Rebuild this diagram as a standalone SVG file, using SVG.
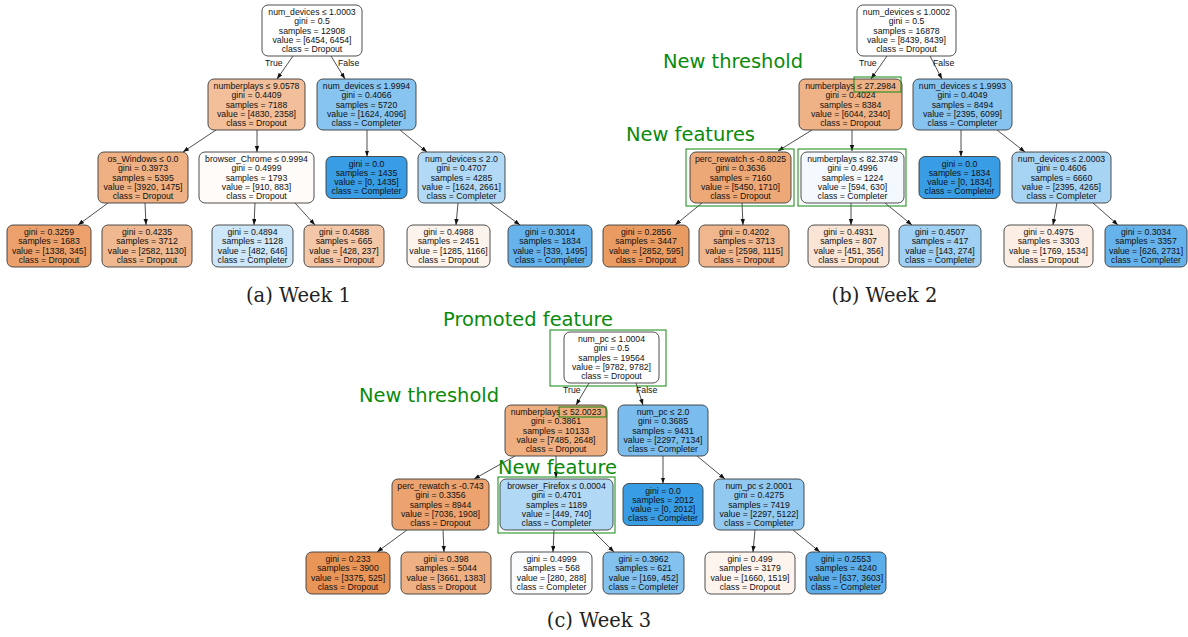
<svg xmlns="http://www.w3.org/2000/svg" width="1188" height="637" viewBox="0 0 1188 637">
<defs>
<marker id="ah" markerWidth="6" markerHeight="5" refX="6" refY="2.2" orient="auto" markerUnits="userSpaceOnUse"><path d="M0,0 L6,2.2 L0,4.4 z" fill="#111"/></marker>
<style>
.n rect{stroke:#3a3a3a;stroke-width:0.9}
.n text,.tf{font-family:"Liberation Sans",Arial,sans-serif;font-size:8.7px;fill:#111}
.n text{text-anchor:middle}
.n rect.hl{fill:none;stroke:#118811;stroke-width:1}
.lab{font-family:"DejaVu Sans",Verdana,sans-serif;font-size:19.5px;fill:#0a8a0a}
.cap{font-family:"DejaVu Serif","Liberation Serif",serif;font-size:19.5px;fill:#222;text-anchor:middle}
.e line{stroke:#222;stroke-width:0.8;marker-end:url(#ah)}
</style>
</defs>
<rect width="1188" height="637" fill="#fff"/>

<!-- connectors -->
<g id="connectors" class="e">
<line x1="293" y1="56" x2="277" y2="79"/>
<line x1="331" y1="56" x2="345" y2="79"/>
<line x1="216" y1="130" x2="183" y2="152"/>
<line x1="257" y1="130" x2="257" y2="152"/>
<line x1="367" y1="130" x2="367" y2="156.5"/>
<line x1="400" y1="130" x2="427" y2="152"/>
<line x1="108" y1="203" x2="78" y2="225"/>
<line x1="145" y1="203" x2="146" y2="225"/>
<line x1="255" y1="203" x2="254" y2="225"/>
<line x1="295" y1="203" x2="315" y2="225"/>
<line x1="458" y1="203" x2="456" y2="225"/>
<line x1="490" y1="203" x2="520" y2="225"/>

<line x1="887" y1="56" x2="871" y2="79"/>
<line x1="930" y1="56" x2="942" y2="79"/>
<line x1="812" y1="130" x2="778" y2="151"/>
<line x1="852" y1="130" x2="852" y2="151"/>
<line x1="961" y1="130" x2="961" y2="156.5"/>
<line x1="997" y1="130" x2="1025" y2="152"/>
<line x1="702" y1="203" x2="675" y2="225"/>
<line x1="742" y1="203" x2="743" y2="225"/>
<line x1="851" y1="203" x2="851" y2="225"/>
<line x1="885" y1="203" x2="912" y2="225"/>
<line x1="1057" y1="203" x2="1053" y2="225"/>
<line x1="1093" y1="203" x2="1118" y2="225"/>

<line x1="589" y1="383" x2="576" y2="405"/>
<line x1="636" y1="383" x2="643" y2="405"/>
<line x1="515" y1="456" x2="474" y2="479"/>
<line x1="556" y1="456" x2="556" y2="478"/>
<line x1="663" y1="456" x2="663" y2="483.5"/>
<line x1="697" y1="456" x2="725" y2="479"/>
<line x1="407" y1="530" x2="377" y2="552"/>
<line x1="443" y1="530" x2="444" y2="552"/>
<line x1="554" y1="530" x2="553" y2="552"/>
<line x1="592" y1="530" x2="614" y2="552"/>
<line x1="755" y1="530" x2="753" y2="552"/>
<line x1="793" y1="530" x2="820" y2="552"/>
</g>

<g id="edge-labels">
<text class="tf" x="265" y="66">True</text>
<text class="tf" x="338" y="66">False</text>
<text class="tf" x="859" y="66">True</text>
<text class="tf" x="933" y="66">False</text>
<text class="tf" x="563" y="393">True</text>
<text class="tf" x="636" y="393">False</text>
</g>

<!-- Week 1 -->
<g id="w1-root" class="n"><rect x="262" y="5" width="100" height="51" rx="6" fill="#ffffff"/>
<text y="15.2"><tspan x="312">num_devices ≤ 1.0003</tspan><tspan x="312" dy="9.25">gini = 0.5</tspan><tspan x="312" dy="9.25">samples = 12908</tspan><tspan x="312" dy="9.25">value = [6454, 6454]</tspan><tspan x="312" dy="9.25">class = Dropout</tspan></text></g>
<g id="w1-n1" class="n"><rect x="208" y="79" width="97" height="51" rx="6" fill="#f2bf9a"/>
<text y="89.2"><tspan x="256.5">numberplays ≤ 9.0578</tspan><tspan x="256.5" dy="9.25">gini = 0.4409</tspan><tspan x="256.5" dy="9.25">samples = 7188</tspan><tspan x="256.5" dy="9.25">value = [4830, 2358]</tspan><tspan x="256.5" dy="9.25">class = Dropout</tspan></text></g>
<g id="w1-n2" class="n"><rect x="317" y="79" width="99" height="51" rx="6" fill="#87c4ef"/>
<text y="89.2"><tspan x="366.5">num_devices ≤ 1.9994</tspan><tspan x="366.5" dy="9.25">gini = 0.4066</tspan><tspan x="366.5" dy="9.25">samples = 5720</tspan><tspan x="366.5" dy="9.25">value = [1624, 4096]</tspan><tspan x="366.5" dy="9.25">class = Completer</tspan></text></g>
<g id="w1-n3" class="n"><rect x="98" y="152" width="90" height="51" rx="6" fill="#efb083"/>
<text y="162.2"><tspan x="143">os_Windows ≤ 0.0</tspan><tspan x="143" dy="9.25">gini = 0.3973</tspan><tspan x="143" dy="9.25">samples = 5395</tspan><tspan x="143" dy="9.25">value = [3920, 1475]</tspan><tspan x="143" dy="9.25">class = Dropout</tspan></text></g>
<g id="w1-n4" class="n"><rect x="199" y="152" width="115" height="51" rx="6" fill="#fefbf9"/>
<text y="162.2"><tspan x="256.5">browser_Chrome ≤ 0.9994</tspan><tspan x="256.5" dy="9.25">gini = 0.4999</tspan><tspan x="256.5" dy="9.25">samples = 1793</tspan><tspan x="256.5" dy="9.25">value = [910, 883]</tspan><tspan x="256.5" dy="9.25">class = Dropout</tspan></text></g>
<g id="w1-n5" class="n"><rect x="326" y="156.5" width="81" height="42" rx="6" fill="#399de5"/>
<text y="166.7"><tspan x="366.5">gini = 0.0</tspan><tspan x="366.5" dy="9.25">samples = 1435</tspan><tspan x="366.5" dy="9.25">value = [0, 1435]</tspan><tspan x="366.5" dy="9.25">class = Completer</tspan></text></g>
<g id="w1-n6" class="n"><rect x="418" y="152" width="87" height="51" rx="6" fill="#b2d9f5"/>
<text y="162.2"><tspan x="461.5">num_devices ≤ 2.0</tspan><tspan x="461.5" dy="9.25">gini = 0.4707</tspan><tspan x="461.5" dy="9.25">samples = 4285</tspan><tspan x="461.5" dy="9.25">value = [1624, 2661]</tspan><tspan x="461.5" dy="9.25">class = Completer</tspan></text></g>
<g id="w1-l1" class="n"><rect x="7" y="225" width="84" height="42" rx="6" fill="#eca16c"/>
<text y="235.2"><tspan x="49">gini = 0.3259</tspan><tspan x="49" dy="9.25">samples = 1683</tspan><tspan x="49" dy="9.25">value = [1338, 345]</tspan><tspan x="49" dy="9.25">class = Dropout</tspan></text></g>
<g id="w1-l2" class="n"><rect x="102" y="225" width="90" height="42" rx="6" fill="#f0b890"/>
<text y="235.2"><tspan x="147">gini = 0.4235</tspan><tspan x="147" dy="9.25">samples = 3712</tspan><tspan x="147" dy="9.25">value = [2582, 1130]</tspan><tspan x="147" dy="9.25">class = Dropout</tspan></text></g>
<g id="w1-l3" class="n"><rect x="212" y="225" width="81" height="42" rx="6" fill="#cde6f8"/>
<text y="235.2"><tspan x="252.5">gini = 0.4894</tspan><tspan x="252.5" dy="9.25">samples = 1128</tspan><tspan x="252.5" dy="9.25">value = [482, 646]</tspan><tspan x="252.5" dy="9.25">class = Completer</tspan></text></g>
<g id="w1-l4" class="n"><rect x="304" y="225" width="80" height="42" rx="6" fill="#f3c7a7"/>
<text y="235.2"><tspan x="344">gini = 0.4588</tspan><tspan x="344" dy="9.25">samples = 665</tspan><tspan x="344" dy="9.25">value = [428, 237]</tspan><tspan x="344" dy="9.25">class = Dropout</tspan></text></g>
<g id="w1-l5" class="n"><rect x="407" y="225" width="83" height="42" rx="6" fill="#fdf3ed"/>
<text y="235.2"><tspan x="448.5">gini = 0.4988</tspan><tspan x="448.5" dy="9.25">samples = 2451</tspan><tspan x="448.5" dy="9.25">value = [1285, 1166]</tspan><tspan x="448.5" dy="9.25">class = Dropout</tspan></text></g>
<g id="w1-l6" class="n"><rect x="508" y="225" width="84" height="42" rx="6" fill="#66b3eb"/>
<text y="235.2"><tspan x="550">gini = 0.3014</tspan><tspan x="550" dy="9.25">samples = 1834</tspan><tspan x="550" dy="9.25">value = [339, 1495]</tspan><tspan x="550" dy="9.25">class = Completer</tspan></text></g>

<!-- Week 2 -->
<g id="w2-root" class="n"><rect x="857" y="5" width="99" height="51" rx="6" fill="#ffffff"/>
<text y="15.2"><tspan x="906.5">num_devices ≤ 1.0002</tspan><tspan x="906.5" dy="9.25">gini = 0.5</tspan><tspan x="906.5" dy="9.25">samples = 16878</tspan><tspan x="906.5" dy="9.25">value = [8439, 8439]</tspan><tspan x="906.5" dy="9.25">class = Dropout</tspan></text></g>
<g id="w2-n1" class="n"><rect x="799" y="79" width="103" height="51" rx="6" fill="#efb286"/>
<text y="89.2"><tspan x="850.5">numberplays ≤ 27.2984</tspan><tspan x="850.5" dy="9.25">gini = 0.4024</tspan><tspan x="850.5" dy="9.25">samples = 8384</tspan><tspan x="850.5" dy="9.25">value = [6044, 2340]</tspan><tspan x="850.5" dy="9.25">class = Dropout</tspan></text>
<rect class="hl" x="854" y="77" width="47" height="15"/></g>
<g id="w2-n2" class="n"><rect x="913" y="79" width="99" height="51" rx="6" fill="#87c3ef"/>
<text y="89.2"><tspan x="962.5">num_devices ≤ 1.9993</tspan><tspan x="962.5" dy="9.25">gini = 0.4049</tspan><tspan x="962.5" dy="9.25">samples = 8494</tspan><tspan x="962.5" dy="9.25">value = [2395, 6099]</tspan><tspan x="962.5" dy="9.25">class = Completer</tspan></text></g>
<g id="w2-n3" class="n"><rect x="690" y="152" width="101" height="51" rx="6" fill="#eda877"/>
<text y="162.2"><tspan x="740.5">perc_rewatch ≤ -0.8025</tspan><tspan x="740.5" dy="9.25">gini = 0.3636</tspan><tspan x="740.5" dy="9.25">samples = 7160</tspan><tspan x="740.5" dy="9.25">value = [5450, 1710]</tspan><tspan x="740.5" dy="9.25">class = Dropout</tspan></text>
<rect class="hl" x="686" y="149" width="108" height="57"/></g>
<g id="w2-n4" class="n"><rect x="801" y="152" width="103" height="51" rx="6" fill="#f4f9fe"/>
<text y="162.2"><tspan x="852.5">numberplays ≤ 82.3749</tspan><tspan x="852.5" dy="9.25">gini = 0.4996</tspan><tspan x="852.5" dy="9.25">samples = 1224</tspan><tspan x="852.5" dy="9.25">value = [594, 630]</tspan><tspan x="852.5" dy="9.25">class = Completer</tspan></text>
<rect class="hl" x="798" y="149" width="108" height="57"/></g>
<g id="w2-n5" class="n"><rect x="919" y="156.5" width="81" height="42" rx="6" fill="#399de5"/>
<text y="166.7"><tspan x="959.5">gini = 0.0</tspan><tspan x="959.5" dy="9.25">samples = 1834</tspan><tspan x="959.5" dy="9.25">value = [0, 1834]</tspan><tspan x="959.5" dy="9.25">class = Completer</tspan></text></g>
<g id="w2-n6" class="n"><rect x="1012" y="152" width="99" height="51" rx="6" fill="#a8d4f4"/>
<text y="162.2"><tspan x="1061.5">num_devices ≤ 2.0003</tspan><tspan x="1061.5" dy="9.25">gini = 0.4606</tspan><tspan x="1061.5" dy="9.25">samples = 6660</tspan><tspan x="1061.5" dy="9.25">value = [2395, 4265]</tspan><tspan x="1061.5" dy="9.25">class = Completer</tspan></text></g>
<g id="w2-l1" class="n"><rect x="603" y="225" width="86" height="42" rx="6" fill="#ea9b62"/>
<text y="235.2"><tspan x="646">gini = 0.2856</tspan><tspan x="646" dy="9.25">samples = 3447</tspan><tspan x="646" dy="9.25">value = [2852, 595]</tspan><tspan x="646" dy="9.25">class = Dropout</tspan></text></g>
<g id="w2-l2" class="n"><rect x="699" y="225" width="90" height="42" rx="6" fill="#f0b78e"/>
<text y="235.2"><tspan x="744">gini = 0.4202</tspan><tspan x="744" dy="9.25">samples = 3713</tspan><tspan x="744" dy="9.25">value = [2598, 1115]</tspan><tspan x="744" dy="9.25">class = Dropout</tspan></text></g>
<g id="w2-l3" class="n"><rect x="808" y="225" width="81" height="42" rx="6" fill="#fae4d5"/>
<text y="235.2"><tspan x="848.5">gini = 0.4931</tspan><tspan x="848.5" dy="9.25">samples = 807</tspan><tspan x="848.5" dy="9.25">value = [451, 356]</tspan><tspan x="848.5" dy="9.25">class = Dropout</tspan></text></g>
<g id="w2-l4" class="n"><rect x="899" y="225" width="82" height="42" rx="6" fill="#a0d0f3"/>
<text y="235.2"><tspan x="940">gini = 0.4507</tspan><tspan x="940" dy="9.25">samples = 417</tspan><tspan x="940" dy="9.25">value = [143, 274]</tspan><tspan x="940" dy="9.25">class = Completer</tspan></text></g>
<g id="w2-l5" class="n"><rect x="1004" y="225" width="89" height="42" rx="6" fill="#fceee5"/>
<text y="235.2"><tspan x="1048.5">gini = 0.4975</tspan><tspan x="1048.5" dy="9.25">samples = 3303</tspan><tspan x="1048.5" dy="9.25">value = [1769, 1534]</tspan><tspan x="1048.5" dy="9.25">class = Dropout</tspan></text></g>
<g id="w2-l6" class="n"><rect x="1105" y="225" width="82" height="42" rx="6" fill="#66b3eb"/>
<text y="235.2"><tspan x="1146">gini = 0.3034</tspan><tspan x="1146" dy="9.25">samples = 3357</tspan><tspan x="1146" dy="9.25">value = [626, 2731]</tspan><tspan x="1146" dy="9.25">class = Completer</tspan></text></g>

<!-- Week 3 -->
<g id="w3-root" class="n"><rect x="564" y="332" width="95" height="51" rx="6" fill="#ffffff"/>
<text y="342.2"><tspan x="611.5">num_pc ≤ 1.0004</tspan><tspan x="611.5" dy="9.25">gini = 0.5</tspan><tspan x="611.5" dy="9.25">samples = 19564</tspan><tspan x="611.5" dy="9.25">value = [9782, 9782]</tspan><tspan x="611.5" dy="9.25">class = Dropout</tspan></text>
<rect class="hl" x="550" y="330" width="116" height="56"/></g>
<g id="w3-n1" class="n"><rect x="505" y="405" width="102" height="51" rx="6" fill="#eeae7f"/>
<text y="415.2"><tspan x="556">numberplays ≤ 52.0023</tspan><tspan x="556" dy="9.25">gini = 0.3861</tspan><tspan x="556" dy="9.25">samples = 10133</tspan><tspan x="556" dy="9.25">value = [7485, 2648]</tspan><tspan x="556" dy="9.25">class = Dropout</tspan></text>
<rect class="hl" x="559" y="407" width="47" height="10"/></g>
<g id="w3-n2" class="n"><rect x="618" y="405" width="90" height="51" rx="6" fill="#79bced"/>
<text y="415.2"><tspan x="663">num_pc ≤ 2.0</tspan><tspan x="663" dy="9.25">gini = 0.3685</tspan><tspan x="663" dy="9.25">samples = 9431</tspan><tspan x="663" dy="9.25">value = [2297, 7134]</tspan><tspan x="663" dy="9.25">class = Completer</tspan></text></g>
<g id="w3-n3" class="n"><rect x="392" y="479" width="97" height="51" rx="6" fill="#eca36f"/>
<text y="489.2"><tspan x="440.5">perc_rewatch ≤ -0.743</tspan><tspan x="440.5" dy="9.25">gini = 0.3356</tspan><tspan x="440.5" dy="9.25">samples = 8944</tspan><tspan x="440.5" dy="9.25">value = [7036, 1908]</tspan><tspan x="440.5" dy="9.25">class = Dropout</tspan></text></g>
<g id="w3-n4" class="n"><rect x="500" y="479" width="113" height="51" rx="6" fill="#b1d8f5"/>
<text y="489.2"><tspan x="556.5">browser_Firefox ≤ 0.0004</tspan><tspan x="556.5" dy="9.25">gini = 0.4701</tspan><tspan x="556.5" dy="9.25">samples = 1189</tspan><tspan x="556.5" dy="9.25">value = [449, 740]</tspan><tspan x="556.5" dy="9.25">class = Completer</tspan></text>
<rect class="hl" x="498" y="477" width="117" height="56"/></g>
<g id="w3-n5" class="n"><rect x="623" y="483.5" width="80" height="42" rx="6" fill="#399de5"/>
<text y="493.7"><tspan x="663">gini = 0.0</tspan><tspan x="663" dy="9.25">samples = 2012</tspan><tspan x="663" dy="9.25">value = [0, 2012]</tspan><tspan x="663" dy="9.25">class = Completer</tspan></text></g>
<g id="w3-n6" class="n"><rect x="714" y="479" width="90" height="51" rx="6" fill="#92c9f1"/>
<text y="489.2"><tspan x="759">num_pc ≤ 2.0001</tspan><tspan x="759" dy="9.25">gini = 0.4275</tspan><tspan x="759" dy="9.25">samples = 7419</tspan><tspan x="759" dy="9.25">value = [2297, 5122]</tspan><tspan x="759" dy="9.25">class = Completer</tspan></text></g>
<g id="w3-l1" class="n"><rect x="306" y="552" width="84" height="42" rx="6" fill="#e99558"/>
<text y="562.2"><tspan x="348">gini = 0.233</tspan><tspan x="348" dy="9.25">samples = 3900</tspan><tspan x="348" dy="9.25">value = [3375, 525]</tspan><tspan x="348" dy="9.25">class = Dropout</tspan></text></g>
<g id="w3-l2" class="n"><rect x="401" y="552" width="90" height="42" rx="6" fill="#efb184"/>
<text y="562.2"><tspan x="446">gini = 0.398</tspan><tspan x="446" dy="9.25">samples = 5044</tspan><tspan x="446" dy="9.25">value = [3661, 1383]</tspan><tspan x="446" dy="9.25">class = Dropout</tspan></text></g>
<g id="w3-l3" class="n"><rect x="511" y="552" width="81" height="42" rx="6" fill="#fafcfe"/>
<text y="562.2"><tspan x="551.5">gini = 0.4999</tspan><tspan x="551.5" dy="9.25">samples = 568</tspan><tspan x="551.5" dy="9.25">value = [280, 288]</tspan><tspan x="551.5" dy="9.25">class = Completer</tspan></text></g>
<g id="w3-l4" class="n"><rect x="603" y="552" width="81" height="42" rx="6" fill="#83c2ef"/>
<text y="562.2"><tspan x="643.5">gini = 0.3962</tspan><tspan x="643.5" dy="9.25">samples = 621</tspan><tspan x="643.5" dy="9.25">value = [169, 452]</tspan><tspan x="643.5" dy="9.25">class = Completer</tspan></text></g>
<g id="w3-l5" class="n"><rect x="705" y="552" width="90" height="42" rx="6" fill="#fdf4ee"/>
<text y="562.2"><tspan x="750">gini = 0.499</tspan><tspan x="750" dy="9.25">samples = 3179</tspan><tspan x="750" dy="9.25">value = [1660, 1519]</tspan><tspan x="750" dy="9.25">class = Dropout</tspan></text></g>
<g id="w3-l6" class="n"><rect x="806" y="552" width="80" height="42" rx="6" fill="#5caeea"/>
<text y="562.2"><tspan x="846">gini = 0.2553</tspan><tspan x="846" dy="9.25">samples = 4240</tspan><tspan x="846" dy="9.25">value = [637, 3603]</tspan><tspan x="846" dy="9.25">class = Completer</tspan></text></g>

<!-- annotations -->
<g id="annotations">
<text class="lab" x="663" y="68" textLength="140" lengthAdjust="spacingAndGlyphs">New threshold</text>
<text class="lab" x="626" y="141" textLength="129" lengthAdjust="spacingAndGlyphs">New features</text>
<text class="lab" x="443" y="326" textLength="170" lengthAdjust="spacingAndGlyphs">Promoted feature</text>
<text class="lab" x="359" y="402" textLength="140" lengthAdjust="spacingAndGlyphs">New threshold</text>
<text class="lab" x="498" y="474" textLength="119" lengthAdjust="spacingAndGlyphs">New feature</text>
</g>
<g id="captions">
<text class="cap" x="298.5" y="302">(a) Week 1</text>
<text class="cap" x="884.5" y="302">(b) Week 2</text>
<text class="cap" x="599" y="627">(c) Week 3</text>
</g>
</svg>
